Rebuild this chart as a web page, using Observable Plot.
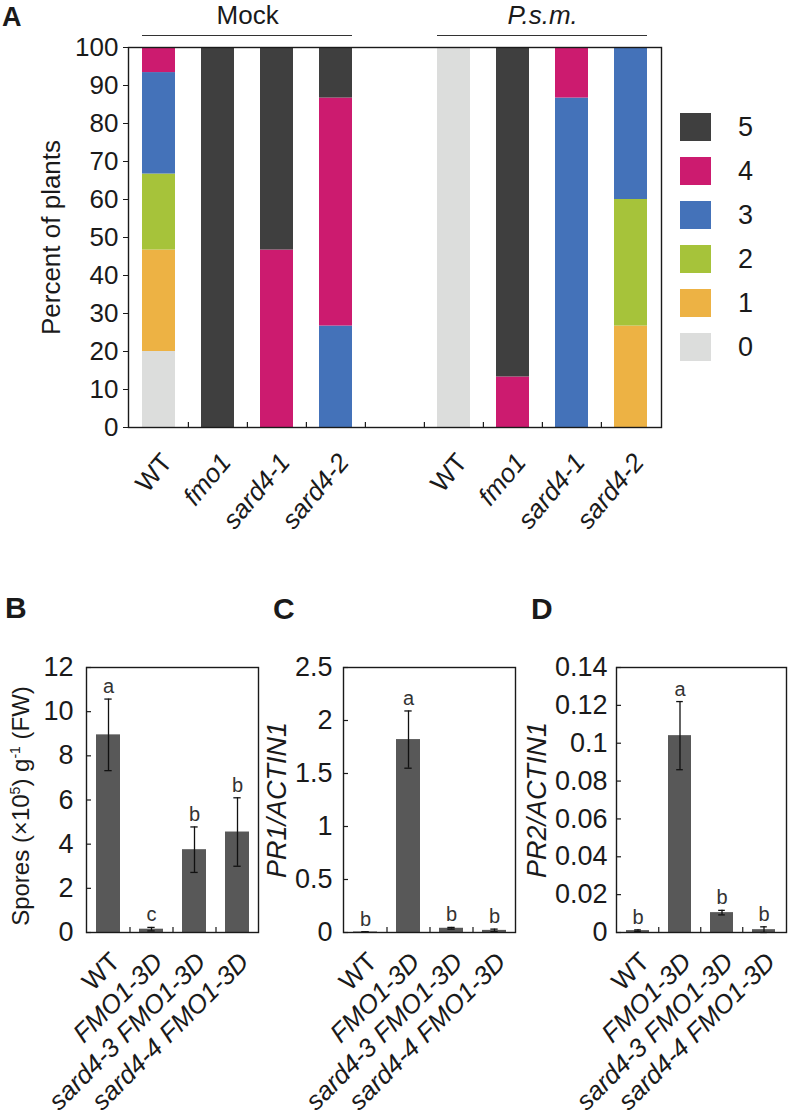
<!DOCTYPE html>
<html>
<head>
<meta charset="utf-8">
<script src="https://cdn.jsdelivr.net/npm/d3@7"></script>
<script src="https://cdn.jsdelivr.net/npm/@observablehq/plot@0.6"></script>
<style>
  body { margin: 0; background: #fff; }
  #wrap { position: relative; width: 789px; height: 1116px; overflow: hidden; background: #fff;
          font-family: "Liberation Sans", Arial, sans-serif; color: #1a1a1a; }
  .panel { position: absolute; }
  .plabel { position: absolute; font-weight: bold; line-height: 1; }
  .rot { position: absolute; white-space: nowrap; line-height: 1; transform: translate(-50%, -50%) rotate(-90deg); }
  .rot sup { font-size: 14px; vertical-align: 9px; line-height: 0; }
  .legrow { position: absolute; display: flex; align-items: center; }
  .sw { width: 31px; height: 28px; }
  .lt { font-size: 27px; margin-left: 27px; line-height: 1; }
</style>
</head>
<body>
<div id="wrap"></div>
<script>
// ---------------- DATA ----------------
// Panel A: disease score distribution (percent of plants), scores 0..5
const scores = [0, 1, 2, 3, 4, 5];
const scoreColors = ["#dcdddc", "#edb244", "#a6c33a", "#4472b9", "#cc1b6f", "#3f3f3f"];
const treatments = ["Mock", "P.s.m."];
const genotypesA = ["WT", "fmo1", "sard4-1", "sard4-2"];
const yTicksA = [0, 10, 20, 30, 40, 50, 60, 70, 80, 90, 100];
// percent of plants with score 0,1,2,3,4,5
const mockWT     = [20, 26.7, 20, 26.7, 6.6, 0];
const mockFmo1   = [0, 0, 0, 0, 0, 100];
const mockSard41 = [0, 0, 0, 0, 46.7, 53.3];
const mockSard42 = [0, 0, 0, 26.7, 60, 13.3];
const psmWT      = [100, 0, 0, 0, 0, 0];
const psmFmo1    = [0, 0, 0, 0, 13.3, 86.7];
const psmSard41  = [0, 0, 0, 86.7, 13.3, 0];
const psmSard42  = [0, 26.7, 33.3, 40, 0, 0];

// Panels B-D
const genotypesB = ["WT", "FMO1-3D", "sard4-3 FMO1-3D", "sard4-4 FMO1-3D"];
const sporesMean = [8.95, 0.15, 3.75, 4.55];
const sporesSD   = [1.62, 0.08, 1.03, 1.55];
const sporesLetters = ["a", "c", "b", "b"];
const sporesTicks = [0, 2, 4, 6, 8, 10, 12];

const pr1Mean = [0.005, 1.82, 0.04, 0.02];
const pr1SD   = [0.002, 0.27, 0.008, 0.012];
const pr1Letters = ["b", "a", "b", "b"];
const pr1Ticks = [0, 0.5, 1, 1.5, 2, 2.5];

const pr2Mean = [0.001, 0.104, 0.0105, 0.0015];
const pr2SD   = [0.0004, 0.018, 0.0012, 0.0015];
const pr2Letters = ["b", "a", "b", "b"];
const pr2Ticks = [0, 0.02, 0.04, 0.06, 0.08, 0.1, 0.12, 0.14];

// ---------------- LAYOUT ----------------
const FONT = '"Liberation Sans", Arial, sans-serif';
const INK = "#1a1a1a";
const wrap = document.getElementById("wrap");

function place(node, left, top) {
  const d = document.createElement("div");
  d.className = "panel";
  d.style.left = left + "px";
  d.style.top = top + "px";
  d.appendChild(node);
  wrap.appendChild(d);
  return d;
}
function html(tag, cls, text, css) {
  const e = document.createElement(tag);
  if (cls) e.className = cls;
  if (text != null) e.innerHTML = text;
  Object.assign(e.style, css || {});
  wrap.appendChild(e);
  return e;
}

// ---------------- PANEL A ----------------
const pctByTreatment = {
  "Mock": [mockWT, mockFmo1, mockSard41, mockSard42],
  "P.s.m.": [psmWT, psmFmo1, psmSard41, psmSard42]
};
const slotKey = (t, g) => t + "|" + g;
const slotsA = [...genotypesA.map(g => slotKey("Mock", g)), "gap", ...genotypesA.map(g => slotKey("P.s.m.", g))];
const rowsA = [];
const labelsA = [];
treatments.forEach(t => {
  pctByTreatment[t].forEach((vals, gi) => {
    const g = genotypesA[gi];
    labelsA.push({slot: slotKey(t, g), genotype: g});
    scores.forEach((s, si) => {
      if (vals[si] > 0) rowsA.push({slot: slotKey(t, g), genotype: g, score: s, pct: vals[si]});
    });
  });
});

const WA = 789, HA = 560, mLA = 128, mRA = 128, mTA = 47, mBA = 133;
const stepA = (WA - mLA - mRA) / slotsA.length;
const groups = treatments.map(t => ({t, x1: slotKey(t, genotypesA[0]), x2: slotKey(t, genotypesA[genotypesA.length - 1]), mid: slotKey(t, genotypesA[1])}));

const plotA = Plot.plot({
  width: WA, height: HA,
  marginLeft: mLA, marginRight: mRA, marginTop: mTA, marginBottom: mBA,
  style: {background: "transparent", overflow: "visible", fontFamily: FONT, color: INK},
  x: {domain: slotsA, paddingInner: 0.44, paddingOuter: 0.22, axis: null},
  y: {domain: [0, 100], axis: null},
  color: {domain: scores, range: scoreColors, type: "ordinal"},
  marks: [
    Plot.barY(rowsA, {x: "slot", y: "pct", fill: "score"}),
    Plot.frame({stroke: INK, strokeWidth: 1.4}),
    Plot.axisY({ticks: yTicksA, tickSize: 5, tickPadding: 5, fontSize: 26, label: null, stroke: INK}),
    Plot.ruleX(slotsA.slice(1), {x: d => d, y1: 0, y2: 0, insetTop: -5, dx: -stepA / 2, stroke: INK, strokeWidth: 1.2}),
    Plot.ruleY(groups, {y: () => 100, x1: "x1", x2: "x2", dy: -12, stroke: "#333", strokeWidth: 1.2}),
    Plot.text(groups.filter(d => d.t === "Mock"), {x: "mid", y: () => 100, text: "t", dx: stepA / 2, dy: -24, lineAnchor: "bottom", fontSize: 26}),
    Plot.text(groups.filter(d => d.t !== "Mock"), {x: "mid", y: () => 100, text: "t", dx: stepA / 2, dy: -24, lineAnchor: "bottom", fontSize: 26, fontStyle: "italic"}),
    Plot.text(["Percent of plants"], {text: d => d, frameAnchor: "left", textAnchor: "middle", lineAnchor: "middle", rotate: -90, dx: -77, fontSize: 26}),
    Plot.text(labelsA.filter(d => d.genotype === "WT"), {x: "slot", text: "genotype", frameAnchor: "bottom", rotate: -50, textAnchor: "end", lineAnchor: "middle", dx: 8, dy: 30, fontSize: 26}),
    Plot.text(labelsA.filter(d => d.genotype !== "WT"), {x: "slot", text: "genotype", frameAnchor: "bottom", rotate: -50, textAnchor: "end", lineAnchor: "middle", dx: 8, dy: 30, fontSize: 26, fontStyle: "italic"})
  ]
});
place(plotA, 0, 0);

// Legend A (top to bottom: 5..0)
[...scores].reverse().forEach((s, i) => {
  const row = html("div", "legrow", null, {left: "680px", top: (113 + i * 44) + "px", height: "28px"});
  const sw = document.createElement("div");
  sw.className = "sw";
  sw.style.background = scoreColors[s];
  const lt = document.createElement("div");
  lt.className = "lt";
  lt.textContent = String(s);
  row.appendChild(sw);
  row.appendChild(lt);
});

// ---------------- PANELS B, C, D ----------------
function barPanel({left, width, mL, mR, mean, sd, letters, ticks, ymax, labelGap, titleText, titleDx}) {
  const H = 536, mT = 87, mB = 184;
  const rows = genotypesB.map((g, i) => ({g, mean: mean[i], sd: sd[i], letter: letters[i]}));
  const frameW = width - mL - mR;
  const step = frameW / genotypesB.length;
  const pad = 0.45;
  const bw = step * (1 - pad);
  const capInset = (bw - 7) / 2;
  const marks = [
    Plot.barY(rows, {x: "g", y: "mean", fill: "#585858"}),
    Plot.ruleX(rows, {x: "g", y1: d => d.mean - d.sd, y2: d => d.mean + d.sd, stroke: "#111", strokeWidth: 1.3}),
    Plot.tickY(rows, {x: "g", y: d => d.mean - d.sd, inset: capInset, stroke: "#111", strokeWidth: 1.3}),
    Plot.tickY(rows, {x: "g", y: d => d.mean + d.sd, inset: capInset, stroke: "#111", strokeWidth: 1.3}),
    Plot.text(rows, {x: "g", y: d => d.mean + d.sd, text: "letter", dy: -6, lineAnchor: "bottom", fontSize: 20, fill: "#333"}),
    Plot.frame({stroke: INK, strokeWidth: 1.4}),
    Plot.axisY({ticks, tickFormat: d => String(d), tickSize: 0, tickPadding: labelGap, fontSize: 27, label: null}),
    Plot.ruleY(ticks, {y: d => d, insetRight: frameW - 5, stroke: INK, strokeWidth: 1.2}),
    Plot.ruleX(genotypesB.slice(1), {x: d => d, y1: 0, y2: 0, insetTop: -5, dx: -step / 2, stroke: INK, strokeWidth: 1.2}),
    Plot.text(rows.filter(d => d.g === "WT"), {x: "g", text: "g", frameAnchor: "bottom", rotate: -45, textAnchor: "end", lineAnchor: "middle", dx: 7, dy: 25, fontSize: 26}),
    Plot.text(rows.filter(d => d.g !== "WT"), {x: "g", text: "g", frameAnchor: "bottom", rotate: -45, textAnchor: "end", lineAnchor: "middle", dx: 7, dy: 25, fontSize: 26, fontStyle: "italic"})
  ];
  if (titleText) {
    marks.push(Plot.text([titleText], {text: d => d, frameAnchor: "left", textAnchor: "middle", lineAnchor: "middle", rotate: -90, dx: titleDx, fontSize: 27, fontStyle: "italic"}));
  }
  const p = Plot.plot({
    width, height: H, marginLeft: mL, marginRight: mR, marginTop: mT, marginBottom: mB,
    style: {background: "transparent", overflow: "visible", fontFamily: FONT, color: INK},
    x: {domain: genotypesB, paddingInner: pad, paddingOuter: pad / 2, axis: null},
    y: {domain: [0, ymax], axis: null},
    marks
  });
  place(p, left, 580);
}

barPanel({left: 0, width: 270, mL: 86, mR: 12, mean: sporesMean, sd: sporesSD, letters: sporesLetters, ticks: sporesTicks, ymax: 12, labelGap: 13});
barPanel({left: 260, width: 270, mL: 83, mR: 15, mean: pr1Mean, sd: pr1SD, letters: pr1Letters, ticks: pr1Ticks, ymax: 2.5, labelGap: 11, titleText: "PR1/ACTIN1", titleDx: -66});
barPanel({left: 520, width: 269, mL: 96, mR: 3, mean: pr2Mean, sd: pr2SD, letters: pr2Letters, ticks: pr2Ticks, ymax: 0.14, labelGap: 9, titleText: "PR2/ACTIN1", titleDx: -79});

// B axis title (with superscripts)
html("div", "rot", "Spores (×10<sup>5</sup>) g<sup>-1</sup> (FW)", {left: "21px", top: "806px", fontSize: "24px"});

// Panel letters
html("div", "plabel", "A", {left: "2px", top: "4px", fontSize: "27px"});
html("div", "plabel", "B", {left: "5px", top: "593px", fontSize: "30px"});
html("div", "plabel", "C", {left: "273px", top: "594px", fontSize: "30px"});
html("div", "plabel", "D", {left: "531px", top: "594px", fontSize: "30px"});
</script>
</body>
</html>
